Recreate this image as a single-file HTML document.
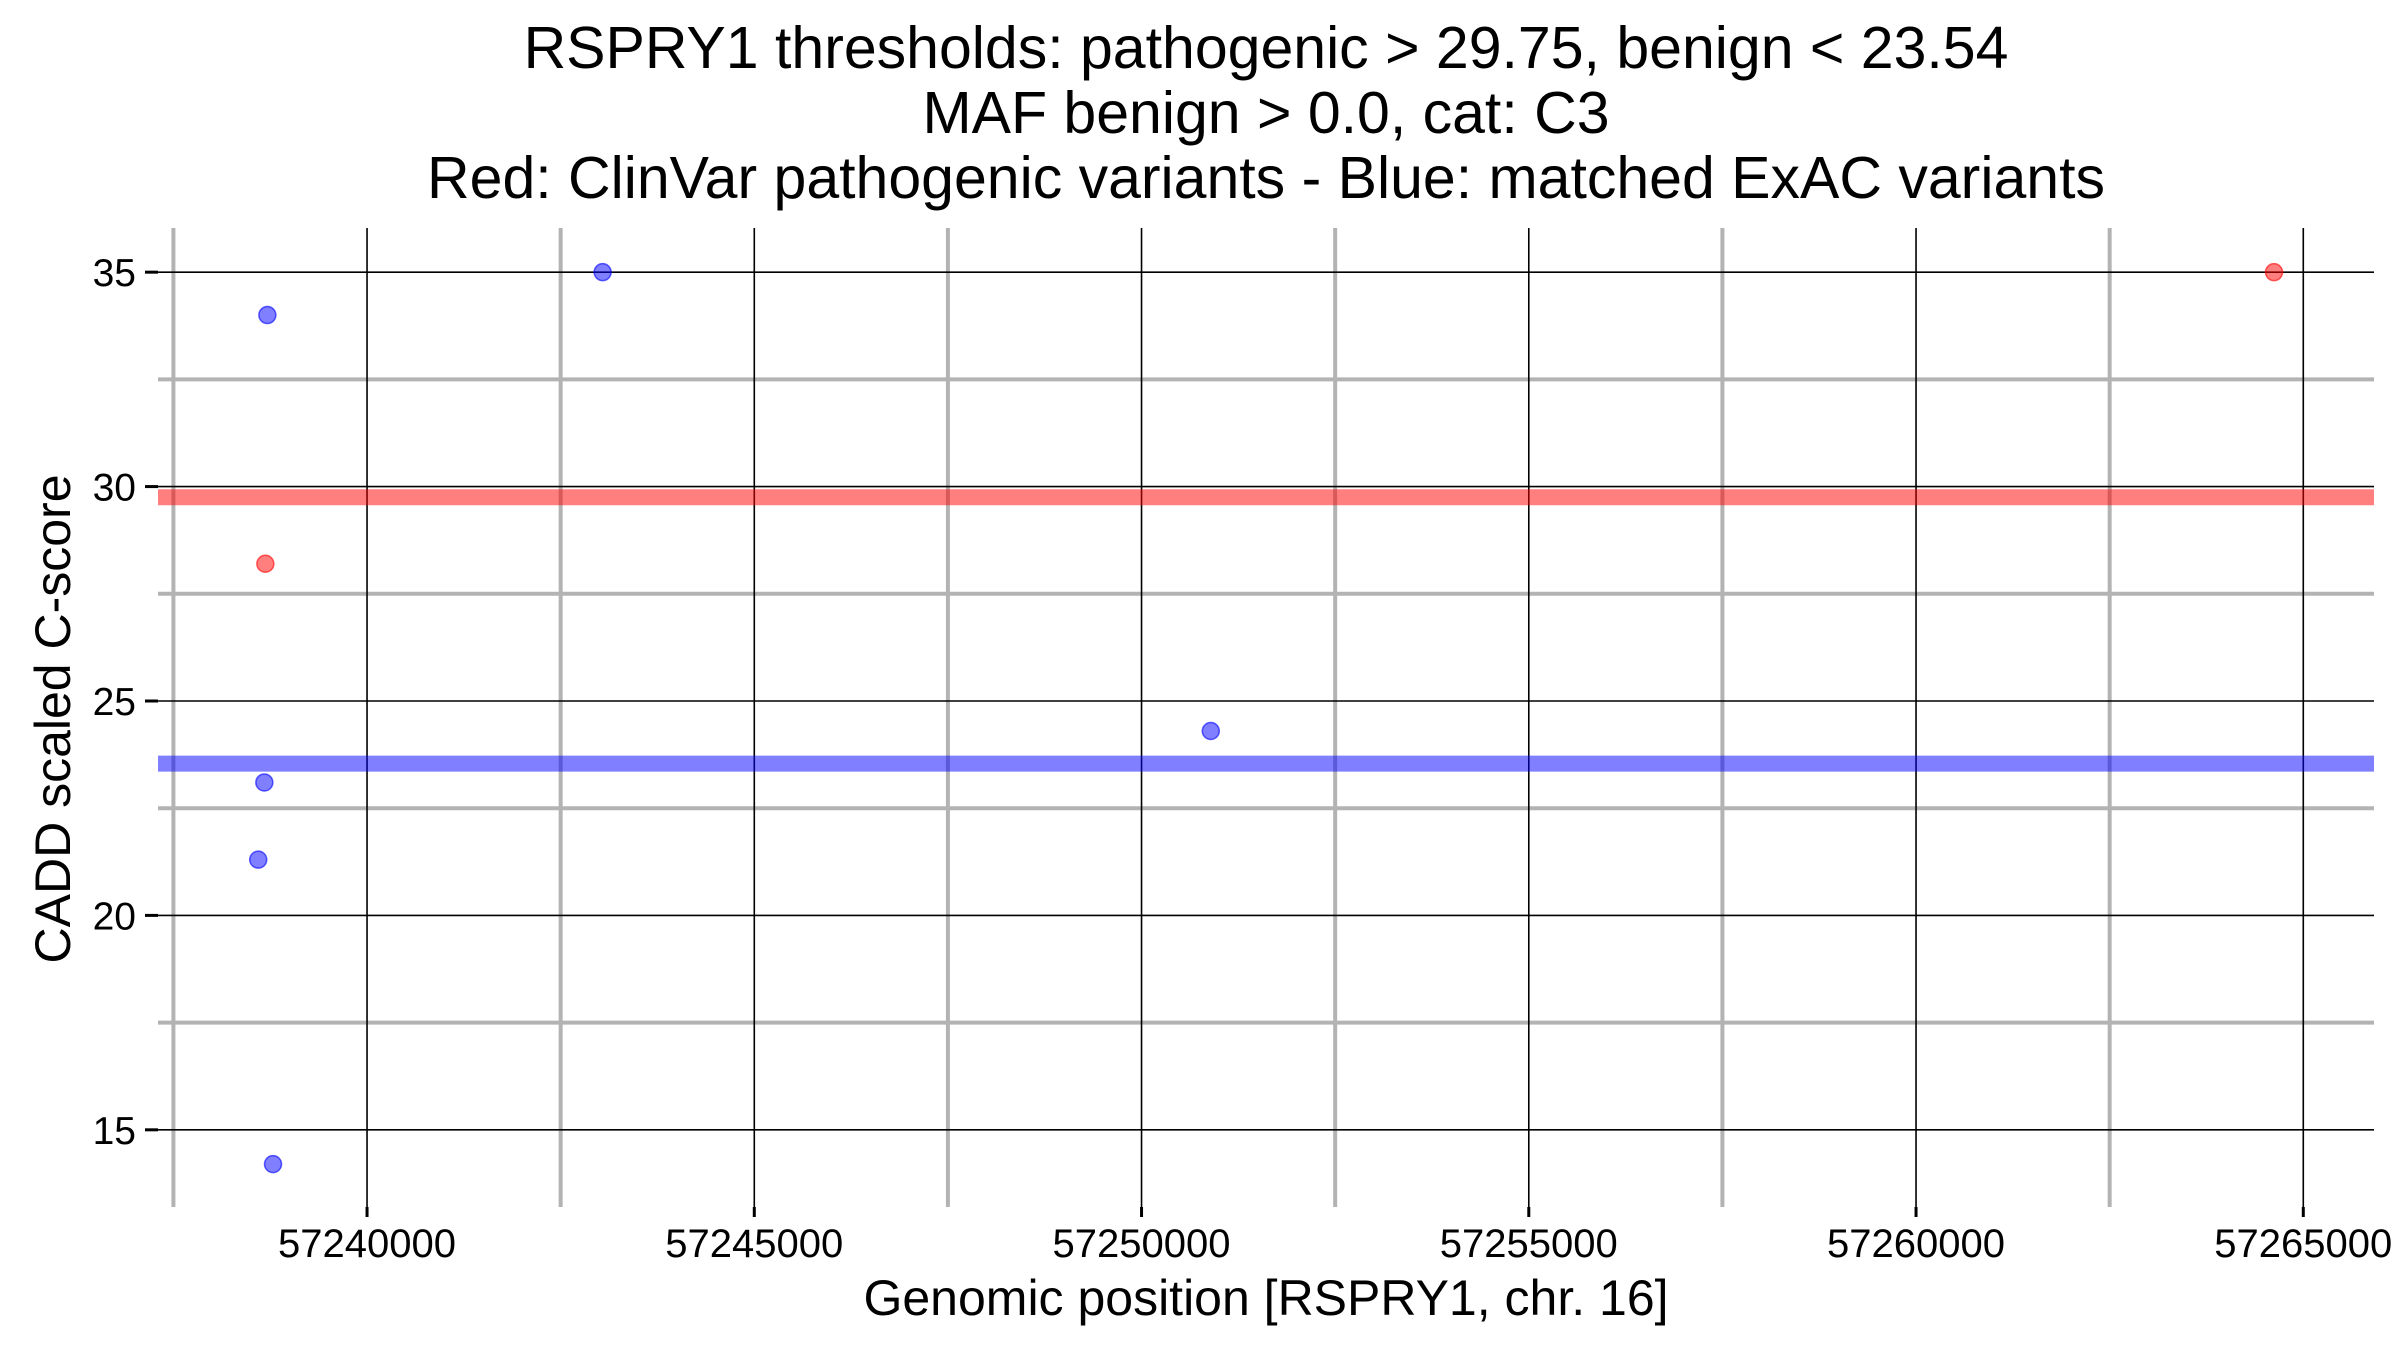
<!DOCTYPE html>
<html><head><meta charset="utf-8"><style>html,body{margin:0;padding:0;background:#fff}svg{display:block}text{font-family:"Liberation Sans",Arial,sans-serif}</style></head>
<body>
<svg id="chart" width="2400" height="1350" xmlns="http://www.w3.org/2000/svg">
<g id="title" text-anchor="middle" font-size="59" fill="#000">
<text x="1266" y="68">RSPRY1 thresholds: pathogenic &gt; 29.75, benign &lt; 23.54</text>
<text x="1266" y="133">MAF benign &gt; 0.0, cat: C3</text>
<text x="1266" y="198">Red: ClinVar pathogenic variants - Blue: matched ExAC variants</text>
</g>
<g id="grid"></g>
<g id="thresholds"></g>
<g id="points"></g>
<g id="axes"></g>
<text x="1266" y="1315" text-anchor="middle" font-size="50">Genomic position [RSPRY1, chr. 16]</text>
<text transform="translate(70,719) rotate(-90)" text-anchor="middle" font-size="50">CADD scaled C-score</text>
</svg>
<script>
const xTicks=[57240000,57245000,57250000,57255000,57260000,57265000];
const xMinor=[57237500,57242500,57247500,57252500,57257500,57262500];
const yTicks=[15,20,25,30,35];
const yMinor=[17.5,22.5,27.5,32.5];
const thresholdValues=[29.75,23.54];
const blueX=[57238713,57243042,57238674,57238595,57238786,57250894];
const blueY=[34.0,35.0,23.1,21.3,14.2,24.3];
const redX=[57238687,57264622];
const redY=[28.2,35.0];
const L=158,R=2374,T=228,B=1207;
const xMin=57237301,xMax=57265913,yMin=13.2,yMax=36.03;
const sx=v=>L+(v-xMin)/(xMax-xMin)*(R-L);
const sy=v=>B-(v-yMin)/(yMax-yMin)*(B-T);
const NS='http://www.w3.org/2000/svg';
function mk(parent,tag,attrs){const e=document.createElementNS(NS,tag);for(const k in attrs)e.setAttribute(k,attrs[k]);document.getElementById(parent).appendChild(e);return e;}
xMinor.forEach(v=>{const e=mk('grid','line',{x1:sx(v),x2:sx(v),y1:T,y2:B,stroke:'#b3b3b3','stroke-width':4});

});
yMinor.forEach(v=>{const e=mk('grid','line',{x1:L,x2:R,y1:sy(v),y2:sy(v),stroke:'#b3b3b3','stroke-width':4});

});
xTicks.forEach(v=>{const e=mk('grid','line',{x1:sx(v),x2:sx(v),y1:T,y2:B,stroke:'#000','stroke-width':1.6});


const t=mk('axes','line',{x1:sx(v),x2:sx(v),y1:B,y2:B+10,stroke:'#000','stroke-width':3});


const l=mk('axes','text',{x:sx(v),y:B+50,'text-anchor':'middle','font-size':40});l.textContent=v;

});
yTicks.forEach(v=>{const e=mk('grid','line',{x1:L,x2:R,y1:sy(v),y2:sy(v),stroke:'#000','stroke-width':1.6});


const t=mk('axes','line',{x1:L-13,x2:L,y1:sy(v),y2:sy(v),stroke:'#000','stroke-width':3});


const l=mk('axes','text',{x:L-22,y:sy(v)+14,'text-anchor':'end','font-size':39});l.textContent=v;

});
const thrColors=['rgba(255,0,0,0.5)','rgba(0,0,255,0.5)'];
thresholdValues.forEach((v,i)=>{const e=mk('thresholds','line',{x1:L,x2:R,y1:sy(v),y2:sy(v),stroke:thrColors[i],'stroke-width':16});

});
blueX.forEach((v,i)=>{const e=mk('points','circle',{cx:sx(v),cy:sy(blueY[i]),r:8.5,fill:'rgba(0,0,255,0.5)',stroke:'rgba(0,0,255,0.6)','stroke-width':1.5});

});
redX.forEach((v,i)=>{const e=mk('points','circle',{cx:sx(v),cy:sy(redY[i]),r:8.5,fill:'rgba(255,0,0,0.5)',stroke:'rgba(255,0,0,0.6)','stroke-width':1.5});

});
</script>
</body></html>
